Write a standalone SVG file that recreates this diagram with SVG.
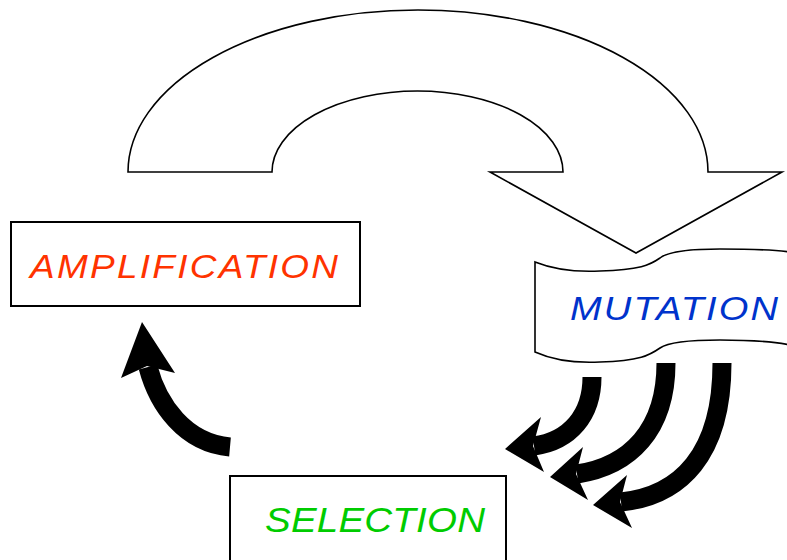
<svg xmlns="http://www.w3.org/2000/svg" width="787" height="560" viewBox="0 0 787 560">
<style>
.box{fill:#fff;stroke:#000;stroke-width:2}
.outline{fill:#fff;stroke:#000;stroke-width:1.6;stroke-linejoin:miter}
.shaft{fill:none;stroke:#000;stroke-width:19}
.head{fill:#000;stroke:none}
.lbl{font-family:"Liberation Sans",Arial,sans-serif;font-style:italic}
</style>
<rect width="787" height="560" fill="#fff"/>
<g id="cycle-arrow">
<path class="outline" d="M128,172 A290,162 0 0 1 708,172 L782,172 L636,253 L490,172 L563,172 A145.5,81 0 0 0 272,172 Z"/>
</g>
<g id="amplification">
<rect class="box" x="11" y="222" width="349" height="84"/>
<text class="lbl" transform="scale(1.12,1)" x="26.8" y="278" font-size="33" fill="#ff3300" textLength="275" lengthAdjust="spacing">AMPLIFICATION</text>
</g>
<g id="mutation">
<path class="outline" d="M535,262 C555,270 580,272 600,271 C640,270 650,265 660,258 C670,250 700,249 720,249 C750,249 775,250 790,252 L790,345 C775,342 750,340 720,340 C700,340 670,341 660,348 C650,355 640,361 600,362 C580,363 555,361 535,352 Z"/>
<text class="lbl" transform="scale(1.12,1)" x="508.9" y="320" font-size="34" fill="#0033cc" textLength="185.7" lengthAdjust="spacing">MUTATION</text>
</g>
<g id="selection">
<rect class="box" x="230" y="476" width="276" height="100"/>
<text class="lbl" transform="scale(1.1,1)" x="240.9" y="532" font-size="35" fill="#00cc00" textLength="200" lengthAdjust="spacing">SELECTION</text>
</g>
<g id="connectors">
<path class="shaft" d="M592,377 C592,415 570,441 534,446"/>
<polygon class="head" points="505,449 541,417 533,446 544,472"/>
<path class="shaft" d="M666,363 C666,430 630,466 577,474"/>
<polygon class="head" points="550,477 583,447 576,474 588,500"/>
<path class="shaft" d="M722,363 C722,455 680,496 621,502"/>
<polygon class="head" points="593,505 627,475 620,502 632,528"/>
<path class="shaft" d="M230,447 C185,443 158,405 148,367"/>
<polygon class="head" points="142,322 175,373 147,366 121,378"/>
</g>
</svg>
